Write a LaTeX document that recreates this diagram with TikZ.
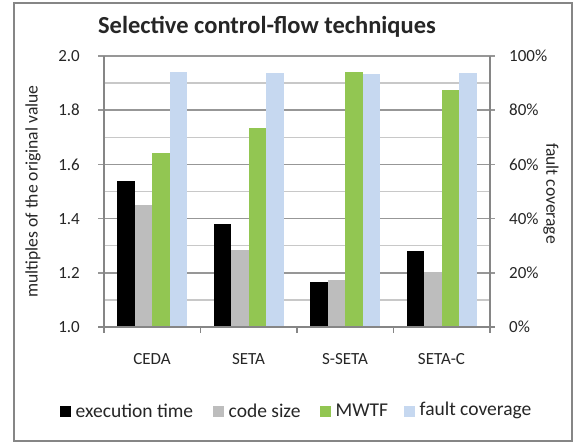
\documentclass[tikz,border=0pt]{standalone}
\usepackage{fontspec}
\setmainfont{Carlito}
\definecolor{barblack}{HTML}{000000}
\definecolor{bargray}{HTML}{BDBDBD}
\definecolor{bargreen}{HTML}{92C652}
\definecolor{barblue}{HTML}{C6D8F0}
\definecolor{axisgray}{HTML}{868686}
\definecolor{majorgrid}{HTML}{979797}
\definecolor{minorgrid}{HTML}{C8C8C8}
\tikzset{
  ticklabel/.style={font=\fontsize{17}{17}\selectfont, text=black!85, inner sep=0pt},
  axtitle/.style={font=\fontsize{17.6}{17.6}\selectfont, text=black!85, inner sep=0pt},
  catlabel/.style={font=\fontsize{17}{17}\selectfont, text=black!85, inner sep=0pt},
  legtext/.style={font=\fontsize{19.5}{19.5}\selectfont, text=black!85, inner sep=0pt, anchor=west},
  legbox/.style={minimum width=11pt, minimum height=10.5pt, inner sep=0pt, draw=none},
  axisline/.style={draw=axisgray, line width=1.8pt},
  majorline/.style={draw=majorgrid, line width=1.6pt},
  minorline/.style={draw=minorgrid, line width=1.4pt},
}
\begin{document}
\begin{tikzpicture}[x=1pt,y=1pt]
\useasboundingbox (0,0) rectangle (576,-443);
\fill[white] (0,0) rectangle (576,-443);
% chart frame
\draw[axisgray, line width=2pt] (13.5,-3.5) rectangle (572,-441.5);

% title
\node[font=\fontsize{24.5}{24.5}\selectfont\bfseries, text=black!85, inner sep=0pt] (title) at (267,-27) {Selective control-flow techniques};

% plot area: origin at the lower left corner, 1 unit of value = 271pt
\begin{scope}[shift={(104,-327)}, y=271pt]
  % minor gridlines
  \foreach \v in {0.1,0.3,0.5,0.7,0.9}
    \draw[minorline] (0,\v) -- (386,\v);
  % major gridlines with ticks on both axes
  \foreach \v in {0.2,0.4,0.6,0.8,1.0}
    \draw[majorline] (-6pt,\v) -- (391pt,\v);
  % bars: black, gray, green, blue per category
  \foreach \i/\a/\b/\c/\d in {0/0.540/0.450/0.642/0.941,
                              1/0.380/0.284/0.734/0.938,
                              2/0.167/0.174/0.941/0.934,
                              3/0.280/0.204/0.875/0.938}{
    \pgfmathsetmacro\xo{96.5*\i+13}
    \fill[barblack] (\xo,0) rectangle ++(17.5,\a);
    \fill[bargray]  (\xo+17.5,0) rectangle ++(17.5,\b);
    \fill[bargreen] (\xo+35,0) rectangle ++(17.5,\c);
    \fill[barblue]  (\xo+52.5,0) rectangle ++(17.5,\d);
  }
  % axes
  \draw[axisline] (0,1) -- (0,0);
  \draw[axisline] (386,1) -- (386,0);
  \draw[axisline] (-6pt,0) -- (391pt,0);
  \foreach \t in {0,96.5,193,289.5,386}
    \draw[axisline] (\t,0) -- ++(0,-6pt);

  % left tick labels
  \foreach \v/\lab in {0/1.0,0.2/1.2,0.4/1.4,0.6/1.6,0.8/1.8,1/2.0}
    \node[ticklabel, anchor=east] (yl\lab) at (-24pt,\v) {\lab};
  % right tick labels
  \foreach \v/\lab/\n in {0/0/0,0.2/20/20,0.4/40/40,0.6/60/60,0.8/80/80,1/100/100}
    \node[ticklabel, anchor=west] (yr\n) at (405pt,\v) {\lab\%};

  % category labels
  \node[catlabel] (cat1) at (48,-32pt) {CEDA};
  \node[catlabel] (cat2) at (144.5,-32pt) {SETA};
  \node[catlabel] (cat3) at (241,-32pt) {S-SETA};
  \node[catlabel] (cat4) at (337.5,-32pt) {SETA-C};
\end{scope}

% axis titles
\node[axtitle, rotate=90] (ytitle) at (33,-191.5) {multiples of the original value};
\node[axtitle, rotate=-90] (y2title) at (551,-193.5) {fault coverage};

% legend
\node[legbox, fill=barblack] (lk1) at (65,-411.5) {};
\node[legtext] (lt1) at (75.5,-410.5) {execution time};
\node[legbox, fill=bargray] (lk2) at (218,-411.5) {};
\node[legtext] (lt2) at (228.5,-410.5) {code size};
\node[legbox, fill=bargreen] (lk3) at (325,-411.5) {};
\node[legtext] (lt3) at (335.5,-410.5) {MWTF};
\node[legbox, fill=barblue] (lk4) at (409,-411.5) {};
\node[legtext] (lt4) at (419.5,-410.5) {fault coverage};
\end{tikzpicture}
\end{document}
